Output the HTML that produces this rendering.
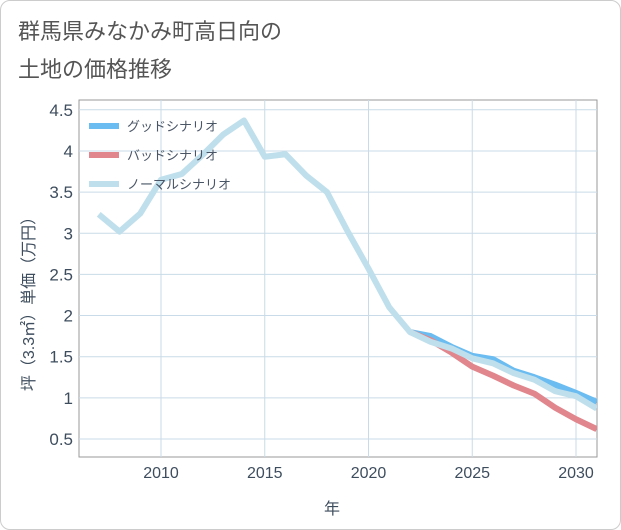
<!DOCTYPE html>
<html><head><meta charset="utf-8"><style>
body{margin:0;background:#fff;font-family:"Liberation Sans","Noto Sans CJK JP",sans-serif;}
#wrap{position:relative;width:619px;height:528px;border:1px solid #ccc;border-radius:10px;overflow:hidden;}
</style></head><body>
<div id="wrap">
<svg id="chart" width="621" height="530" style="position:absolute;left:-1px;top:-1px">
<text x="18" y="39" font-size="22" fill="#555">群馬県みなかみ町高日向の</text>
<text x="18" y="77" font-size="22" fill="#555">土地の価格推移</text>
<g id="grid"></g><g id="series"></g><g id="legend"></g>
<text x="332" y="514" font-size="16" fill="#3e4d5e" text-anchor="middle">年</text>
<text transform="translate(34,300) rotate(-90)" font-size="16" fill="#3e4d5e" text-anchor="middle">坪（3.3㎡）単価（万円）</text>
</svg></div>
<script>
const years=[2007,2008,2009,2010,2011,2012,2013,2014,2015,2016,2017,2018,2019,2020,2021,2022,2023,2024,2025,2026,2027,2028,2029,2030,2031];
const normal=[3.23,3.02,3.24,3.65,3.72,3.95,4.2,4.37,3.93,3.96,3.7,3.5,3.02,2.57,2.1,1.8,1.68,1.6,1.48,1.42,1.3,1.22,1.08,1.02,0.87];
const futureYears=[2022,2023,2024,2025,2026,2027,2028,2029,2030,2031];
const good=[1.8,1.75,1.62,1.51,1.47,1.33,1.25,1.16,1.06,0.95];
const bad=[1.8,1.7,1.55,1.38,1.27,1.15,1.05,0.88,0.74,0.62];
const xTicks=[2010,2015,2020,2025,2030];
const yTicks=[0.5,1,1.5,2,2.5,3,3.5,4,4.5];
const yLabels=["0.5","1","1.5","2","2.5","3","3.5","4","4.5"];
const L=79,R=597,T=100,B=457;
const x=v=>161+(v-2010)*20.75;
const y=v=>439-(v-0.5)*82.3;
const NS="http://www.w3.org/2000/svg";
function mk(t,a,p){const e=document.createElementNS(NS,t);for(const k in a)e.setAttribute(k,a[k]);p.appendChild(e);return e;}
const grid=document.getElementById('grid');
mk('rect',{x:L,y:T,width:R-L,height:B-T,fill:'none',stroke:'#999'},grid);
xTicks.forEach(t=>{
 const l=mk('line',{x1:x(t),x2:x(t),y1:T,y2:B,stroke:'#c9dbe8'},grid);
 
 
 const tx=mk('text',{x:x(t),y:478,'font-size':16,fill:'#3e4d5e','text-anchor':'middle'},grid);tx.textContent=t;
 
 
});
yTicks.forEach((t,i)=>{
 const l=mk('line',{x1:L,x2:R,y1:y(t),y2:y(t),stroke:'#c9dbe8'},grid);
 
 
 const tx=mk('text',{x:73,y:y(t)+6,'font-size':17,fill:'#3e4d5e','text-anchor':'end'},grid);tx.textContent=yLabels[i];
 
 
});
const defs=mk('defs',{},document.getElementById('chart'));
const cp=mk('clipPath',{id:'cp'},defs);mk('rect',{x:L,y:T,width:R-L,height:B-T},cp);
const sg=document.getElementById('series');sg.setAttribute('clip-path','url(#cp)');
function line(xs,vs,c,name){
 const p=mk('polyline',{points:xs.map((v,i)=>x(v)+','+y(vs[i])).join(' '),fill:'none',stroke:c,'stroke-width':6,'stroke-linejoin':'round'},sg);
 
 
}
line(futureYears,good,'#6bbcf0','good-scenario-line');
line(futureYears,bad,'#e0868c','bad-scenario-line');
line(years,normal,'#bfdfec','normal-scenario-line');
const lg=document.getElementById('legend');
[['グッドシナリオ','#6bbcf0'],['バッドシナリオ','#e0868c'],['ノーマルシナリオ','#bfdfec']].forEach((d,i)=>{
 const yy=126+i*29;
 const g=mk('g',{},lg);
 
 
 mk('rect',{x:89,y:yy-3,width:30,height:6,fill:d[1]},g);
 const t=mk('text',{x:127,y:yy+5,'font-size':13,fill:'#4a5566'},g);t.textContent=d[0];
});
</script>
</body></html>
